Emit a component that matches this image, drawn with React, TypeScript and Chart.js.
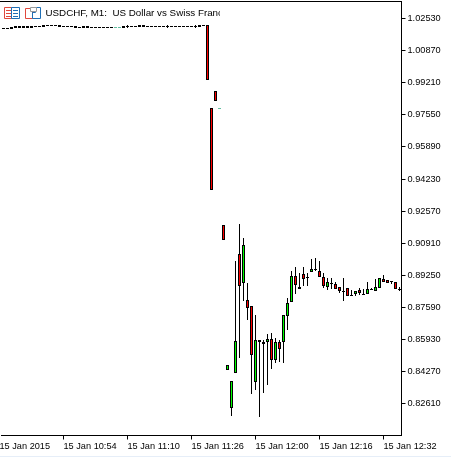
import React, { useEffect, useRef } from "react";
import { Chart, registerables } from "chart.js";

Chart.register(...registerables);

const opens = [
  1.02038, 1.02038, 1.0209, 1.02142, 1.02142, 1.02142, 1.02142, 1.02142, 1.02142, 1.02142,
  1.02194, 1.02194, 1.02194, 1.02194, 1.02194, 1.02142, 1.02142, 1.02142, 1.02142, 1.0209,
  1.02142, 1.02142, 1.0209, 1.0209, 1.0209, 1.0209, 1.0209, 1.0209, 1.0209, 1.0209,
  1.02142, 1.02142, 1.02142, 1.02142, 1.02194, 1.02194, 1.02142, 1.02142, 1.02142, 1.02142,
  1.02142, 1.02142, 1.02142, 1.02142, 1.02142, 1.02142, 1.02142, 1.02142, 1.02142, 1.02194,
  1.02194, 1.02194, 0.97902, 0.98781, 0.97851, 0.91853, 0.84357, 0.82392, 0.84202, 0.90354,
  0.88855, 0.87976, 0.87666, 0.83737, 0.85908, 0.85805, 0.85805, 0.8596, 0.84874, 0.85805,
  0.85805, 0.87149, 0.87873, 0.89217, 0.88545, 0.8932, 0.89165, 0.89424, 0.89579, 0.89475,
  0.89165, 0.88648, 0.88855, 0.88803, 0.88648, 0.88441, 0.88596, 0.88234, 0.88286, 0.88493,
  0.88286, 0.88286, 0.88545, 0.88441, 0.88596, 0.89062, 0.8901, 0.88958, 0.88907, 0.88545,
];
const closes = [
  1.01987, 1.01987, 1.01987, 1.02038, 1.02038, 1.02038, 1.02038, 1.02038, 1.0209, 1.0209,
  1.0209, 1.02142, 1.02142, 1.02142, 1.0209, 1.0209, 1.0209, 1.0209, 1.02038, 1.02038,
  1.02038, 1.02038, 1.02038, 1.02038, 1.02038, 1.02038, 1.02038, 1.02038, 1.02038, 1.02038,
  1.02038, 1.0209, 1.0209, 1.0209, 1.0209, 1.0209, 1.0209, 1.0209, 1.0209, 1.0209,
  1.0209, 1.0209, 1.0209, 1.0209, 1.0209, 1.0209, 1.0209, 1.0209, 1.0209, 1.0209,
  1.02142, 0.9935, 0.93663, 0.98264, 0.97902, 0.91078, 0.84616, 0.83788, 0.85856, 0.887,
  0.90821, 0.87562, 0.85133, 0.85908, 0.85805, 0.85701, 0.8596, 0.84874, 0.85805, 0.85443,
  0.872, 0.87821, 0.89217, 0.88751, 0.88648, 0.89062, 0.89113, 0.89579, 0.89527, 0.89165,
  0.887, 0.88907, 0.88803, 0.88545, 0.88441, 0.8839, 0.88183, 0.88183, 0.88441, 0.88338,
  0.88234, 0.88545, 0.88493, 0.88648, 0.89113, 0.88907, 0.88855, 0.88907, 0.88545, 0.88493,
];
const highs = [
  1.02038, 1.02038, 1.0209, 1.02142, 1.02142, 1.02142, 1.02142, 1.02142, 1.02142, 1.02142,
  1.02194, 1.02194, 1.02194, 1.02194, 1.02194, 1.02142, 1.02142, 1.02142, 1.02142, 1.0209,
  1.02142, 1.02142, 1.0209, 1.0209, 1.0209, 1.0209, 1.0209, 1.0209, 1.0209, 1.0209,
  1.02142, 1.02194, 1.02142, 1.02142, 1.02194, 1.02194, 1.02142, 1.02142, 1.02142, 1.02142,
  1.02142, 1.02194, 1.02142, 1.02142, 1.02142, 1.02142, 1.02142, 1.02142, 1.02194, 1.02194,
  1.02194, 1.02194, 0.97902, 0.98781, 0.97902, 0.91853, 0.84616, 0.83788, 0.89992, 0.91905,
  0.91181, 0.88855, 0.87666, 0.872, 0.85908, 0.85908, 0.86218, 0.8627, 0.86011, 0.85908,
  0.872, 0.88079, 0.89475, 0.89682, 0.89372, 0.89682, 0.89372, 0.90096, 0.90147, 0.89992,
  0.89372, 0.89113, 0.89113, 0.88907, 0.88648, 0.89113, 0.88596, 0.88493, 0.88441, 0.88596,
  0.88545, 0.88907, 0.88596, 0.89062, 0.89113, 0.89269, 0.8901, 0.88958, 0.88907, 0.88648,
];
const lows = [
  1.01987, 1.01987, 1.01987, 1.02038, 1.02038, 1.02038, 1.02038, 1.02038, 1.0209, 1.0209,
  1.0209, 1.02142, 1.02142, 1.02142, 1.0209, 1.0209, 1.0209, 1.0209, 1.02038, 1.02038,
  1.02038, 1.02038, 1.02038, 1.02038, 1.02038, 1.02038, 1.02038, 1.02038, 1.02038, 1.02038,
  1.02038, 1.02038, 1.0209, 1.0209, 1.0209, 1.0209, 1.0209, 1.0209, 1.0209, 1.0209,
  1.0209, 1.02038, 1.0209, 1.0209, 1.0209, 1.0209, 1.0209, 1.0209, 1.02038, 1.0209,
  1.02142, 0.9935, 0.93663, 0.98264, 0.97851, 0.91078, 0.84357, 0.81979, 0.84202, 0.84977,
  0.87925, 0.86942, 0.83116, 0.83323, 0.81927, 0.83168, 0.83582, 0.84409, 0.84719, 0.84771,
  0.84719, 0.86425, 0.87873, 0.88286, 0.88545, 0.887, 0.887, 0.89424, 0.89475, 0.89165,
  0.88596, 0.88493, 0.88545, 0.88545, 0.88338, 0.87925, 0.88183, 0.88183, 0.88183, 0.88234,
  0.88234, 0.88286, 0.88493, 0.88441, 0.88596, 0.88907, 0.88855, 0.88803, 0.88545, 0.88441,
];

const xTickIndex = [-1, 15, 31, 47, 63, 79, 95];
const xTickLabels = [
  "15 Jan 2015",
  "15 Jan 10:54",
  "15 Jan 11:10",
  "15 Jan 11:26",
  "15 Jan 12:00",
  "15 Jan 12:16",
  "15 Jan 12:32",
];
const yTicks = [
  1.0253, 1.0087, 0.9921, 0.9755, 0.9589, 0.9423, 0.9257, 0.9091, 0.8925, 0.8759, 0.8593, 0.8427,
  0.8261,
];
const fadedBars = [28, 29, 54];

const FONT = "'Liberation Sans', Arial, sans-serif";

const topLine = {
  id: "topLine",
  beforeDatasetsDraw(chart: any) {
    const { ctx, chartArea } = chart;
    ctx.save();
    ctx.fillStyle = "#000";
    ctx.fillRect(0, 1, chartArea.right + 0.5, 1);
    ctx.restore();
  },
};

export default function App() {
  const ref = useRef<HTMLCanvasElement>(null);
  useEffect(() => {
    const bodyColor = opens.map((o, i) => (closes[i] > o ? "#00ff00" : "#ff0000"));
    const edgeColor = opens.map((_, i) => (fadedBars.includes(i) ? "#62bd9f" : "#000000"));
    const chart = new Chart(ref.current!, {
      type: "bar",
      plugins: [topLine],
      data: {
        datasets: [
          {
            label: "Range",
            order: 2,
            data: highs.map((h, i) => ({ x: i, y: [lows[i], h] })),
            barThickness: 1,
            grouped: false,
            backgroundColor: opens.map((_, i) => (fadedBars.includes(i) ? "rgba(0,0,0,0)" : "#000000")),
            borderWidth: 0,
            borderSkipped: false,
            inflateAmount: 0,
          },
          {
            label: "USDCHF",
            order: 1,
            data: opens.map((o, i) => ({ x: i, y: [o, closes[i]] })),
            barThickness: 3,
            grouped: false,
            backgroundColor: bodyColor,
            borderColor: edgeColor,
            borderWidth: 1,
            borderSkipped: false,
            inflateAmount: 0,
          },
        ] as any,
      },
      options: {
        responsive: false,
        animation: false,
        devicePixelRatio: 1,
        layout: { padding: { left: 1.5, top: 1.5, right: 0, bottom: 0 } },
        plugins: { legend: { display: false }, tooltip: { enabled: false }, title: { display: false } },
        scales: {
          x: {
            type: "linear",
            offset: false,
            min: -0.5,
            max: 99.5,
            position: "bottom",
            grid: { offset: false, drawOnChartArea: false, drawTicks: true, tickLength: 4, color: "#000", lineWidth: 1 },
            border: { display: true, color: "#000", width: 1 },
            ticks: {
              autoSkip: false,
              maxRotation: 0,
              minRotation: 0,
              align: "start",
              padding: 1,
              color: "#000",
              font: { family: FONT, size: 9.2 },
              callback: (v: any) => {
                const k = xTickIndex.indexOf(Number(v));
                return k >= 0 ? xTickLabels[k] : "";
              },
            },
            afterBuildTicks: (s: any) => {
              s.ticks = xTickIndex.map((value) => ({ value }));
            },
            afterFit: (s: any) => {
              s.height = 21.5;
              s.paddingLeft = 0;
              s.paddingRight = 0;
            },
          },
          y: {
            type: "linear",
            position: "right",
            min: 0.809707,
            max: 1.034085,
            grid: { drawOnChartArea: false, drawTicks: true, tickLength: 4, color: "#000", lineWidth: 1 },
            border: { display: true, color: "#000", width: 1 },
            ticks: {
              autoSkip: false,
              padding: 2,
              color: "#000",
              font: { family: FONT, size: 9.2 },
              callback: (v: any) => Number(v).toFixed(5),
            },
            afterBuildTicks: (s: any) => {
              s.ticks = yTicks.map((value) => ({ value }));
            },
            afterFit: (s: any) => {
              s.width = 49.5;
              s.paddingTop = 0;
              s.paddingBottom = 0;
            },
          },
        },
      } as any,
    });
    return () => chart.destroy();
  }, []);

  return (
    <div style={{ position: "fixed", left: 0, top: 0, width: 451, height: 457, background: "#fff", overflow: "hidden" }}>
      <canvas ref={ref} width={451} height={457} style={{ display: "block" }} />
      <svg width="42" height="14" style={{ position: "absolute", left: 2, top: 6 }}>
        <g fill="none" strokeWidth="1">
          <path d="M2.5 1.5H9.5V12.5H2.5Z" stroke="#e0483c" />
          <path d="M9.5 1.5H17.5V12.5H9.5Z" stroke="#1f6fb5" />
          <path d="M4 4.5H9M4 7.5H9M4 10.5H9" stroke="#e0483c" />
          <path d="M11 4.5H16M11 7.5H16M11 10.5H16" stroke="#1f6fb5" />
          <path d="M23.5 2.5H30.5V12.5H23.5Z" stroke="#e0483c" />
          <path d="M33.5 1.5H38.5V12.5H30.5V6.5H33.5Z" stroke="#1f6fb5" />
          <path d="M28.5 1.5H34.5V5.5H28.5Z" stroke="#9a9a9a" fill="#fff" />
        </g>
      </svg>
      <div
        style={{
          position: "absolute",
          left: 45.5,
          top: 5,
          width: 174,
          height: 15,
          overflow: "hidden",
          whiteSpace: "pre",
          font: `9.8px/15px ${FONT}`,
          color: "#000",
        }}
      >
        USDCHF, M1:  US Dollar vs Swiss Franc
      </div>
      <div style={{ position: "absolute", left: 0, top: 456, width: 451, height: 1, background: "#e6eef8" }} />
    </div>
  );
}
